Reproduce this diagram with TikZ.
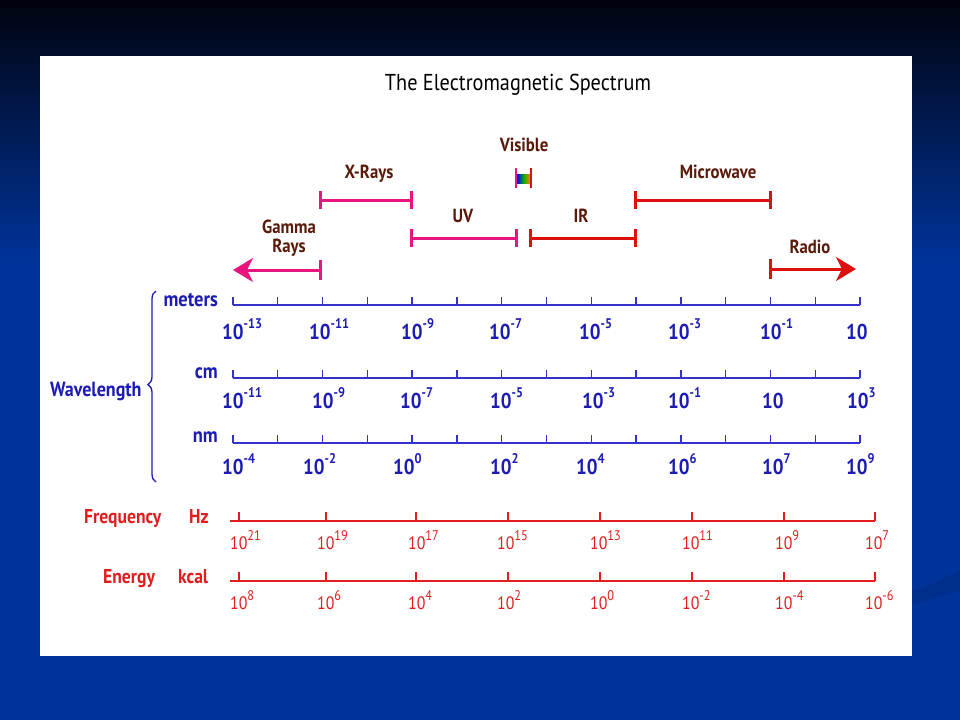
\documentclass[tikz,border=0pt]{standalone}
\usepackage{fontspec}
\setmainfont{PT Sans}[FakeStretch=0.88]
\usetikzlibrary{arrows.meta,decorations.pathreplacing,calc}
\definecolor{bgdark}{HTML}{00030F}
\definecolor{bgblue}{HTML}{003399}
\definecolor{swoosh}{HTML}{002C88}
\definecolor{mag}{HTML}{E8157F}
\definecolor{bandred}{HTML}{DD1010}
\definecolor{brn}{HTML}{5A1A0A}
\definecolor{wblue}{HTML}{1C1CB4}
\definecolor{axblue}{HTML}{3333CC}
\definecolor{fred}{HTML}{E01E1E}
\newcommand\tenb[1]{10\raisebox{0.48em}{\fontsize{14}{14}\selectfont #1}}
\newcommand\tenr[1]{10\raisebox{0.5em}{\fontsize{14}{14}\selectfont #1}}
\tikzset{
  bandlbl/.style={text=brn,font=\bfseries\fontsize{19}{21}\selectfont,inner sep=0pt,anchor=base,align=center},
  bandbar/.style={line width=3pt},
  bluenum/.style={text=wblue,font=\bfseries\fontsize{21.5}{21.5}\selectfont,inner sep=0pt,anchor=base west},
  blueunit/.style={text=wblue,font=\bfseries\fontsize{21}{21}\selectfont,inner sep=0pt,anchor=base east},
  rednum/.style={text=fred,font=\fontsize{18}{18}\selectfont,inner sep=0pt,anchor=base west},
  redlbl/.style={text=fred,font=\bfseries\fontsize{20}{20}\selectfont,inner sep=0pt,anchor=base west},
  blueaxis/.style={draw=axblue,line width=1.8pt},
  bluetick/.style={draw=axblue,line width=1.4pt},
  redaxis/.style={draw=fred,line width=1.6pt},
  redtick/.style={draw=fred,line width=1.2pt},
}
\begin{document}
\begin{tikzpicture}[x=1pt,y=-1pt]
\useasboundingbox (0,0) rectangle (960,720);
% background
\shade[top color=bgdark,bottom color=bgblue] (0,0) rectangle (960,260);
\fill[bgblue] (0,259.5) rectangle (960,720);
\fill[bgdark] (0,0) rectangle (960,8);
\fill[swoosh,opacity=0.7] (912,592) .. controls (930,585) and (945,578) .. (960,570) -- (960,590) .. controls (945,595) and (930,600) .. (912,604) -- cycle;
% panel
\fill[white] (40,56) rectangle (912,656);
% title
\node[font=\fontsize{23}{23}\selectfont,anchor=base,inner sep=0pt] (title) at (518,90) {The Electromagnetic Spectrum};
% bands
\coordinate (g1) at (320,270); \coordinate (g0) at (233,270);
\draw[bandbar,mag,-{Stealth[length=20pt,width=24pt,inset=6pt]}] (g1) -- (g0);
\draw[bandbar,mag] ($(g1)+(0,-10)$) -- ($(g1)+(0,10)$);
\node[bandlbl] (gamma) at (289,233) {Gamma};
\node[bandlbl] (rays) at (289,252) {Rays};
\coordinate (x0) at (320,200); \coordinate (x1) at (411,200);
\draw[bandbar,mag] (x0) -- (x1);
\draw[bandbar,mag] (320,191) -- (320,209) (411,191) -- (411,209);
\node[bandlbl] (xr) at (369,178) {X-Rays};
\coordinate (u0) at (411,238); \coordinate (u1) at (516,238);
\draw[bandbar,mag] (u0) -- (u1);
\draw[bandbar,mag] (411,229) -- (411,247) (516,229) -- (516,247);
\node[bandlbl] (uv) at (463,222) {UV};
\coordinate (v0) at (517,178); \coordinate (v1) at (530,178);
\shade[left color=blue,right color=orange,middle color=green!70!black] (517,174) rectangle (530,183);
\draw[mag,line width=2pt] (516,168) -- (516,188);
\draw[bandred,line width=2pt] (531,168) -- (531,188);
\node[bandlbl] (vis) at (524,151) {Visible};
\coordinate (i0) at (530,238); \coordinate (i1) at (635,238);
\draw[bandbar,bandred] (i0) -- (i1);
\draw[bandbar,bandred] (530,229) -- (530,247) (635,229) -- (635,247);
\node[bandlbl] (ir) at (581,222) {IR};
\coordinate (m0) at (635,200); \coordinate (m1) at (770,200);
\draw[bandbar,bandred] (m0) -- (m1);
\draw[bandbar,bandred] (635,191) -- (635,209) (770,191) -- (770,209);
\node[bandlbl] (mw) at (718,178) {Microwave};
\coordinate (r0) at (770,269); \coordinate (r1) at (856,269);
\draw[bandbar,bandred,-{Stealth[length=20pt,width=24pt,inset=6pt]}] (r0) -- (r1);
\draw[bandbar,bandred] (770,259) -- (770,279);
\node[bandlbl] (radio) at (810,253) {Radio};
% wavelength axes
\foreach \yy/\nm in {305/am,378/ac,443/an}{
  \coordinate (\nm0) at (233,\yy); \coordinate (\nm1) at (860,\yy);
  \draw[blueaxis] (\nm0) -- (\nm1);
  \foreach \i in {0,...,14}{\draw[bluetick] (233+\i*44.786,\yy) -- ++(0,-8);}
}
\node[blueunit] (um) at (218,306) {meters};
\node[blueunit] (uc) at (218,378) {cm};
\node[blueunit] (un) at (218,442) {nm};
% meters labels
\foreach \xx/\ee in {222/-13,309/-11,401/-9,489/-7,579/-5,668/-3,760/-1}{
  \node[bluenum] at (\xx,339) {\tenb{\ee}};}
\node[bluenum] at (846,339) {10};
% cm labels
\foreach \xx/\ee in {222/-11,312/-9,400/-7,490/-5,582/-3,668/-1,847/3}{
  \node[bluenum] at (\xx,408) {\tenb{\ee}};}
\node[bluenum] at (762,408) {10};
% nm labels
\foreach \xx/\ee in {222/-4,303/-2,393/0,490/2,576/4,668/6,762/7,846/9}{
  \node[bluenum] at (\xx,474) {\tenb{\ee}};}
% brace
\draw[wblue,line width=1.3pt,decorate,decoration={brace,amplitude=8pt,aspect=0.51}] (156,482) -- (156,291);
\node[text=wblue,font=\bfseries\fontsize{20.5}{20.5}\selectfont,inner sep=0pt,anchor=base west] (wl) at (50,396) {Wavelength};
% frequency
\coordinate (f0) at (230,521); \coordinate (f1) at (875,521);
\draw[redaxis] (f0) -- (f1);
\foreach \xx in {239,326,416,508,600,692,784,875}{\draw[redtick] (\xx,521) -- ++(0,-9);}
\foreach \xx/\ee in {230/21,317/19,408/17,497/15,590/13,682/11,775/9,865/7}{
  \node[rednum] at (\xx,549) {\tenr{\ee}};}
\node[redlbl] (fq) at (84,523) {Frequency};
\node[redlbl] (hz) at (189,523) {Hz};
% energy
\coordinate (e0) at (230,581); \coordinate (e1) at (875,581);
\draw[redaxis] (e0) -- (e1);
\foreach \xx in {239,326,416,508,600,692,784,875}{\draw[redtick] (\xx,581) -- ++(0,-9);}
\foreach \xx/\ee in {230/8,317/6,408/4,497/2,590/0,682/-2,775/-4,865/-6}{
  \node[rednum] at (\xx,609) {\tenr{\ee}};}
\node[redlbl] (en) at (103,583) {Energy};
\node[redlbl] (kc) at (178,583) {kcal};
\end{tikzpicture}
\end{document}
